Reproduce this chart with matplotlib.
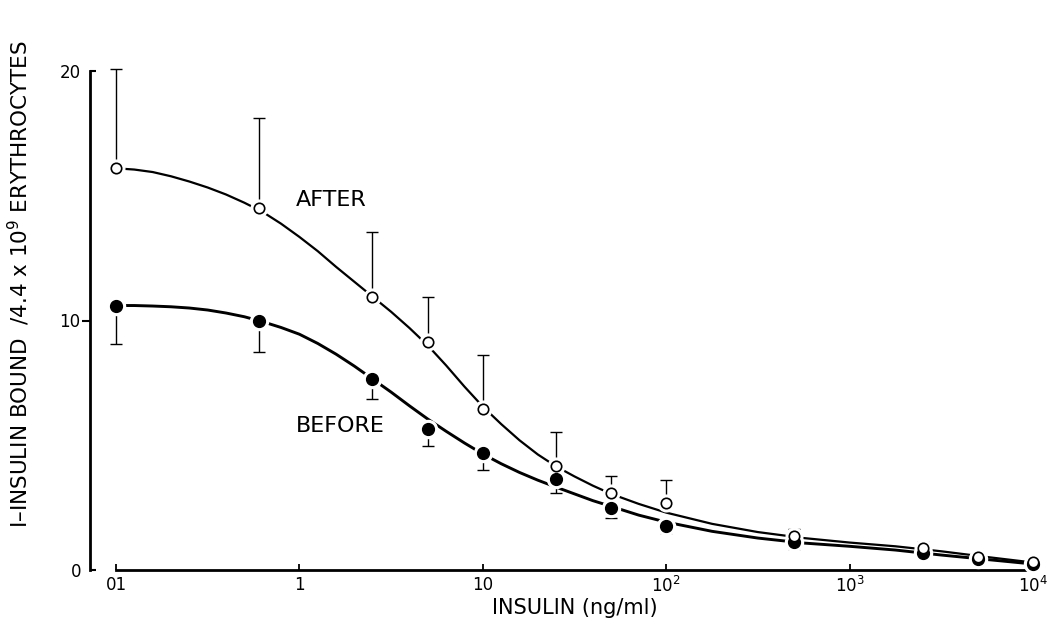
import numpy as np
import matplotlib
matplotlib.use("Agg")
import matplotlib.pyplot as plt
from matplotlib.ticker import FixedLocator, FixedFormatter

plt.rcParams['font.family'] = ['DejaVu Sans']
plt.rcParams['mathtext.fontset'] = 'custom'
plt.rcParams['mathtext.rm'] = 'DejaVu Sans'
plt.rcParams['mathtext.it'] = 'DejaVu Sans'
plt.rcParams['mathtext.default'] = 'regular'

# ---- data ----
conc = [0.1, 0.6, 2.5, 5, 10, 25, 50, 100, 500, 2500, 5000, 10000]
after_mean = [16.1, 14.5, 10.95, 9.15, 6.45, 4.17, 3.09, 2.69, 1.36, 0.88, 0.52, 0.32]
after_err_up = [4.0, 3.6, 2.6, 1.8, 2.15, 1.36, 0.68, 0.91, 0.28, 0.24, 0.2, 0.0]
before_mean = [10.6, 10.0, 7.65, 5.65, 4.69, 3.65, 2.48, 1.76, 1.12, 0.68, 0.44, 0.24]
before_err_dn = [1.55, 1.25, 0.8, 0.68, 0.69, 0.57, 0.4, 0.28, 0.28, 0.16, 0.12, 0.0]

curve_logx = [-1.0, -0.9, -0.8, -0.7, -0.6, -0.5, -0.4, -0.3, -0.2, -0.1, 0.0, 0.1, 0.2,
              0.3, 0.4, 0.5, 0.6, 0.7, 0.8, 0.9, 1.0, 1.1, 1.2, 1.3, 1.4, 1.5, 1.6, 1.7,
              1.85, 2.0, 2.25, 2.5, 2.75, 3.0, 3.25, 3.5, 3.75, 4.0]
after_curve = [16.1, 16.05, 15.95, 15.78, 15.57, 15.33, 15.05, 14.72, 14.35, 13.88, 13.35,
               12.78, 12.15, 11.55, 10.95, 10.35, 9.7, 9.0, 8.2, 7.35, 6.55, 5.85, 5.2,
               4.63, 4.15, 3.75, 3.38, 3.05, 2.65, 2.3, 1.85, 1.52, 1.28, 1.1, 0.95, 0.75,
               0.52, 0.3]
before_curve = [10.6, 10.6, 10.58, 10.55, 10.5, 10.42, 10.3, 10.15, 9.95, 9.72, 9.45,
                9.08, 8.65, 8.17, 7.65, 7.13, 6.58, 6.05, 5.56, 5.09, 4.65, 4.26, 3.91,
                3.6, 3.32, 3.05, 2.78, 2.55, 2.2, 1.92, 1.55, 1.28, 1.08, 0.95, 0.8, 0.6,
                0.42, 0.24]

xtick_vals = [0.1, 1, 10, 100, 1000, 10000]
xtick_labels = ['01', '1', '10', '$10^2$', '$10^3$', '$10^4$']

W, H = 1056, 627
fig = plt.figure(figsize=(W / 100, H / 100), dpi=100)
ax = fig.add_axes([116 / W, 1 - 570 / H, (1033 - 116) / W, (570 - 71) / H])
ax.set_xscale('log')
ax.set_xlim(0.1, 1e4)
ax.set_ylim(0, 20)

cx = 10 ** np.array(curve_logx)
ax.plot(cx, after_curve, color='black', lw=1.6, zorder=2, clip_on=False,
        solid_joinstyle='round')
ax.plot(cx, before_curve, color='black', lw=2.1, zorder=2, clip_on=False,
        solid_joinstyle='round')

# error bars
ax.errorbar(conc, after_mean, yerr=[np.zeros(len(conc)), after_err_up], fmt='none',
            ecolor='black', elinewidth=1.0, capsize=4, capthick=1.0, zorder=3, clip_on=False)
ax.errorbar(conc, before_mean, yerr=[before_err_dn, np.zeros(len(conc))], fmt='none',
            ecolor='black', elinewidth=1.0, capsize=4, capthick=1.0, zorder=3, clip_on=False)

# white halos to break the curves near the markers
ax.plot(conc, after_mean, 'o', ms=12, mfc='white', mec='white', zorder=4, clip_on=False)
ax.plot(conc, before_mean, 'o', ms=13, mfc='white', mec='white', zorder=4, clip_on=False)
ax.plot(conc, after_mean, 'o', ms=7.5, mfc='white', mec='black', mew=1.2, zorder=6, clip_on=False)
ax.plot(conc, before_mean, 'o', ms=8.5, mfc='black', mec='black', zorder=5, clip_on=False)

ax.text(1.50, 14.83, 'AFTER', fontsize=16, ha='center', va='center')
ax.text(1.68, 5.77, 'BEFORE', fontsize=16, ha='center', va='center')

# spines
for s in ['top', 'right']:
    ax.spines[s].set_visible(False)
ax.spines['left'].set_position(('outward', 19))
ax.spines['left'].set_bounds(0, 20)
ax.spines['left'].set_linewidth(2.0)
ax.spines['bottom'].set_linewidth(2.0)
ax.spines['bottom'].set_bounds(0.1, 1e4)

ax.xaxis.set_major_locator(FixedLocator(xtick_vals))
ax.xaxis.set_major_formatter(FixedFormatter(xtick_labels))
ax.xaxis.set_minor_locator(FixedLocator([]))
ax.tick_params(axis='x', which='major', direction='in', length=4.5, width=1.3,
               labelsize=12, pad=4)

ax.yaxis.set_major_locator(FixedLocator([0, 20]))
ax.yaxis.set_major_formatter(FixedFormatter(['0', '20']))
ax.yaxis.set_minor_locator(FixedLocator([10]))
ax.yaxis.set_minor_formatter(FixedFormatter(['10']))
ax.tick_params(axis='y', which='major', direction='in', length=4.5, width=1.5,
               labelsize=12, pad=6)
ax.tick_params(axis='y', which='minor', direction='out', length=5.5, width=1.5,
               labelsize=12, pad=1)

ax.set_xlabel('INSULIN (ng/ml)', fontsize=15, labelpad=2)
fig.text(19 / W, 1 - 284 / H, 'I\u2013INSULIN BOUND  /4.4 x 10$^{9}$ ERYTHROCYTES',
         rotation=90, fontsize=15.5, ha='center', va='center')

fig.savefig('out.png', dpi=100)
